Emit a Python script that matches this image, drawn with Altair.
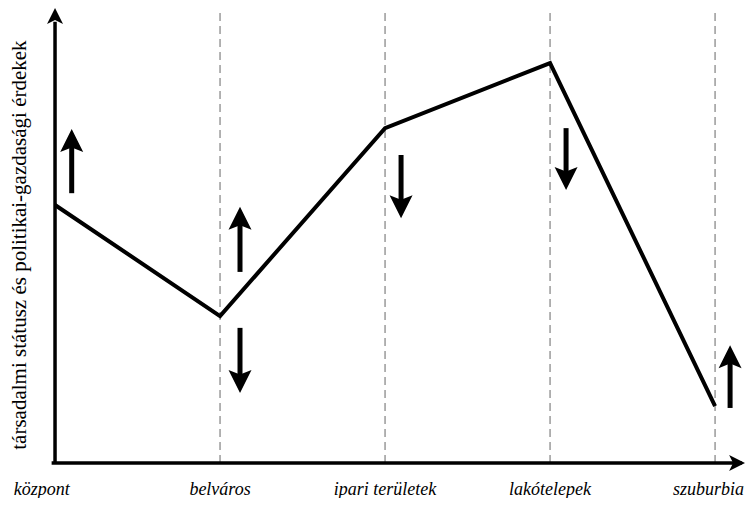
import altair as alt
import pandas as pd

# --- data ---
categories = ["központ", "belváros", "ipari területek", "lakótelepek", "szuburbia"]
cat_pos = [0, 1, 2, 3, 4]
status = [56.7, 32.3, 73.6, 87.9, 12.5]
label_pos = [-0.08, 1, 2, 3, 3.96]
label_y = -5.9

arrow_x = [0.101, 1.121, 1.121, 2.097, 3.097, 4.091]
arrow_tail = [59.3, 42.0, 29.7, 67.7, 73.6, 12.1]
arrow_tip = [73.4, 56.3, 15.4, 53.8, 60.0, 25.9]

y_title = "társadalmi státusz és politikai-gazdasági érdekek"
y_title_x = -0.212
y_title_y = 47.9

x_axis_end = 4.182
y_axis_top = 100.0
dash_top = 100.6

X_DOMAIN = [-0.285, 4.145]
Y_DOMAIN = [-6.81, 100.0]

SERIF = "Liberation Serif"

xs = alt.Scale(domain=X_DOMAIN, nice=False, zero=False)
ys = alt.Scale(domain=Y_DOMAIN, nice=False, zero=False)

def X(field):
    return alt.X(field, type="quantitative", scale=xs, axis=None)

def Y(field):
    return alt.Y(field, type="quantitative", scale=ys, axis=None)

# dashed guide lines
dash_df = pd.DataFrame({"x": cat_pos[1:], "y": [0] * 4, "y2": [dash_top] * 4})
dashes = alt.Chart(dash_df).mark_rule(color="#9a9a9a", strokeWidth=1.5, strokeDash=[8, 5]).encode(
    x=X("x"), y=Y("y"), y2="y2")

# axes
yaxis_df = pd.DataFrame({"x": [0.0], "y": [0.0], "y2": [y_axis_top - 3]})
yaxis = alt.Chart(yaxis_df).mark_rule(color="black", strokeWidth=3.5).encode(
    x=X("x"), y=Y("y"), y2="y2")
xaxis_df = pd.DataFrame({"x": [-0.01], "x2": [x_axis_end - 0.03], "y": [0.0]})
xaxis = alt.Chart(xaxis_df).mark_rule(color="black", strokeWidth=3.5, strokeCap="square").encode(
    x=X("x"), x2="x2", y=Y("y"))

UP_AX = "M0,0 L0.5,1 L0,0.75 L-0.5,1 Z"
RIGHT_AX = "M0,0 L-1,-0.5 L-0.75,0 L-1,0.5 Z"
yhead = alt.Chart(pd.DataFrame({"x": [0.0], "y": [y_axis_top]})).mark_point(
    shape=UP_AX, filled=True, opacity=1, color="black", size=1024).encode(x=X("x"), y=Y("y"))
xhead = alt.Chart(pd.DataFrame({"x": [x_axis_end], "y": [0.0]})).mark_point(
    shape=RIGHT_AX, filled=True, opacity=1, color="black", size=1024).encode(x=X("x"), y=Y("y"))

# main line
line_df = pd.DataFrame({"x": cat_pos, "y": status, "cat": categories})
line = alt.Chart(line_df).mark_line(color="black", strokeWidth=4, strokeJoin="miter").encode(
    x=X("x"), y=Y("y"), order="x:Q")

# arrows
dirs = ["up" if t > s else "down" for s, t in zip(arrow_tail, arrow_tip)]
base = [t - (3.0 if d == "up" else -3.0) for t, d in zip(arrow_tip, dirs)]
arr_df = pd.DataFrame({"x": arrow_x, "tail": arrow_tail, "tip": arrow_tip, "base": base, "dir": dirs})
shafts = alt.Chart(arr_df).mark_rule(color="black", strokeWidth=5).encode(
    x=X("x"), y=Y("tail"), y2="base")
UP = "M0,0 L0.5,1 L0,0.8 L-0.5,1 Z"
DOWN = "M0,0 L0.5,-1 L0,-0.8 L-0.5,-1 Z"
heads = alt.Chart(arr_df).mark_point(filled=True, opacity=1, color="black", size=2116).encode(
    x=X("x"), y=Y("tip"),
    shape=alt.Shape("dir:N", scale=alt.Scale(domain=["up", "down"], range=[UP, DOWN]), legend=None))

# labels
lab_df = pd.DataFrame({"x": label_pos, "y": [label_y] * 5, "t": categories})
labels = alt.Chart(lab_df).mark_text(font=SERIF, fontStyle="italic", fontSize=18,
                                     color="black", align="center", baseline="middle").encode(
    x=X("x"), y=Y("y"), text="t:N")

ytitle = alt.Chart(pd.DataFrame({"x": [y_title_x], "y": [y_title_y], "t": [y_title]})).mark_text(
    font=SERIF, fontSize=21, angle=270, color="black",
    align="center", baseline="middle").encode(x=X("x"), y=Y("y"), text="t:N")

chart = alt.layer(dashes, line, shafts, heads, yaxis, xaxis, yhead, xhead, labels, ytitle).properties(
    width=731, height=486,
    padding={"left": 0, "top": 0, "right": 6, "bottom": 4},
    autosize=alt.AutoSizeParams(type="none")
).configure_view(stroke=None)

chart.save("out.html", embed_options={"renderer": "svg", "actions": False})
